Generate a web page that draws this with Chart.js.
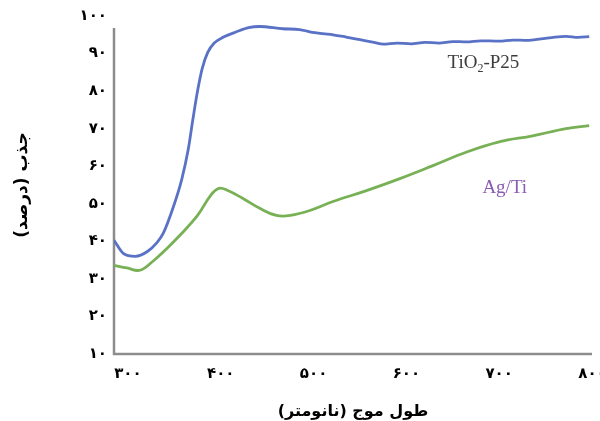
<!DOCTYPE html>
<html>
<head>
<meta charset="utf-8">
<script src="https://cdn.jsdelivr.net/npm/chart.js@4/dist/chart.umd.min.js"></script>
<style>
  html, body { margin: 0; padding: 0; overflow: hidden; background: #fff; }
  canvas { display: block; }
</style>
</head>
<body>
<canvas id="chart" width="620" height="421"></canvas>
<script>
// Wavelength (nm) and absorbance (%) for the two samples
const tio2Wavelength = [285, 295, 308, 321, 331, 338, 349, 358, 365, 370, 375, 380, 386, 393, 403, 417, 430, 442, 467, 485, 496, 510, 521, 535, 550, 565, 575, 590, 605, 620, 635, 650, 665, 680, 700, 715, 730, 745, 760, 772, 785, 797];
const tio2Absorbance = [40.3, 36.8, 36.0, 37.3, 39.6, 42.1, 49.2, 56.5, 64.5, 72.5, 80.0, 86.0, 90.3, 92.8, 94.4, 95.8, 96.9, 97.2, 96.6, 96.4, 95.8, 95.3, 95.0, 94.4, 93.7, 93.0, 92.5, 92.8, 92.6, 93.0, 92.8, 93.2, 93.1, 93.4, 93.3, 93.6, 93.5, 93.9, 94.4, 94.6, 94.3, 94.5];

const agtiWavelength = [285, 299, 313, 327, 342, 356, 375, 389, 398, 407, 424, 442, 460, 475, 496, 521, 557, 593, 628, 665, 700, 736, 772, 797];
const agtiAbsorbance = [33.6, 32.9, 32.3, 34.7, 38.1, 41.6, 46.9, 52.2, 54.1, 53.6, 51.4, 48.8, 46.9, 46.9, 48.2, 50.6, 53.5, 56.7, 60.1, 63.8, 66.5, 68.1, 70.0, 70.8];

// Axis ticks and their Persian labels
const xTicks = [300, 400, 500, 600, 700, 800];
const xTickLabels = ['۳۰۰', '۴۰۰', '۵۰۰', '۶۰۰', '۷۰۰', '۸۰۰'];
const yTicks = [10, 20, 30, 40, 50, 60, 70, 80, 90, 100];
const yTickLabels = ['۱۰', '۲۰', '۳۰', '۴۰', '۵۰', '۶۰', '۷۰', '۸۰', '۹۰', '۱۰۰'];

// Series names, written next to their curves
const seriesNames = ['TiO2-P25', 'Ag/Ti'];
const xTitle = 'طول موج (نانومتر)\u200F';
const yTitle = 'جذب (درصد)\u200F';

const toPoints = (xs, ys) => xs.map((x, i) => ({ x: x, y: ys[i] }));

// L-shaped axis frame
const axisFrame = {
  id: 'axisFrame',
  beforeDatasetsDraw(chart) {
    const { ctx, chartArea, scales } = chart;
    const top = scales.y.getPixelForValue(96.8);
    ctx.save();
    ctx.strokeStyle = '#8c8c8c';
    ctx.lineWidth = 2.5;
    ctx.beginPath();
    ctx.moveTo(chartArea.left, top);
    ctx.lineTo(chartArea.left, chartArea.bottom);
    ctx.lineTo(chartArea.right, chartArea.bottom);
    ctx.stroke();
    ctx.restore();
  }
};

// Curve names placed in data coordinates
const curveNames = {
  id: 'curveNames',
  afterDatasetsDraw(chart) {
    const { ctx, scales } = chart;
    const size = 19;
    ctx.save();
    ctx.textBaseline = 'middle';
    ctx.textAlign = 'left';

    // TiO2-P25 with subscript 2
    const parts = [
      { t: 'TiO', f: size + 'px "Liberation Serif"', dy: 0 },
      { t: '2', f: Math.round(size * 0.62) + 'px "Liberation Serif"', dy: 6 },
      { t: '-P25', f: size + 'px "Liberation Serif"', dy: 0 }
    ];
    let total = 0;
    parts.forEach(p => { ctx.font = p.f; p.w = ctx.measureText(p.t).width; total += p.w; });
    let x = scales.x.getPixelForValue(683) - total / 2;
    const y1 = scales.y.getPixelForValue(87.5);
    ctx.fillStyle = '#3c3c3c';
    parts.forEach(p => { ctx.font = p.f; ctx.fillText(p.t, x, y1 + p.dy); x += p.w; });

    // Ag/Ti
    ctx.font = size + 'px "Liberation Serif"';
    ctx.textAlign = 'center';
    ctx.fillStyle = '#8a5cb4';
    ctx.fillText(seriesNames[1], scales.x.getPixelForValue(706), scales.y.getPixelForValue(54.2));
    ctx.restore();
  }
};

const persianFont = { family: '"DejaVu Sans"', weight: 'bold', size: 15 };

new Chart(document.getElementById('chart'), {
  type: 'line',
  data: {
    datasets: [
      {
        label: seriesNames[0],
        data: toPoints(tio2Wavelength, tio2Absorbance),
        borderColor: '#5a72c6',
        borderWidth: 2.8,
        pointRadius: 0,
        cubicInterpolationMode: 'monotone',
        fill: false
      },
      {
        label: seriesNames[1],
        data: toPoints(agtiWavelength, agtiAbsorbance),
        borderColor: '#78b155',
        borderWidth: 2.8,
        pointRadius: 0,
        tension: 0.4,
        fill: false
      }
    ]
  },
  options: {
    responsive: false,
    animation: false,
    devicePixelRatio: 1,
    layout: { padding: { top: 16, right: 28, left: 0, bottom: 0 } },
    plugins: {
      legend: { display: false },
      tooltip: { enabled: false }
    },
    scales: {
      x: {
        type: 'linear',
        min: 285,
        max: 800,
        afterBuildTicks: s => { s.ticks = xTicks.map(v => ({ value: v })); },
        afterFit: s => { s.height = 67; },
        grid: { display: false, drawTicks: false },
        border: { display: false },
        ticks: {
          autoSkip: false,
          maxRotation: 0,
          padding: 11,
          color: '#000',
          font: persianFont,
          callback: (v, i) => xTickLabels[i]
        },
        title: {
          display: true,
          text: xTitle,
          color: '#000',
          font: { family: '"DejaVu Sans"', weight: 'bold', size: 16 },
          padding: { top: 0, bottom: 0 }
        }
      },
      y: {
        type: 'linear',
        min: 10,
        max: 100,
        afterBuildTicks: s => { s.ticks = yTicks.map(v => ({ value: v })); },
        afterFit: s => { s.width = 114; },
        grid: { display: false, drawTicks: false },
        border: { display: false },
        ticks: {
          autoSkip: false,
          padding: 7,
          color: '#000',
          font: persianFont,
          callback: (v, i) => yTickLabels[i]
        },
        title: {
          display: true,
          text: yTitle,
          color: '#000',
          font: { family: '"DejaVu Sans"', weight: 'bold', size: 17 },
          padding: { top: 12, bottom: 0 }
        }
      }
    }
  },
  plugins: [axisFrame, curveNames]
});
</script>
</body>
</html>
